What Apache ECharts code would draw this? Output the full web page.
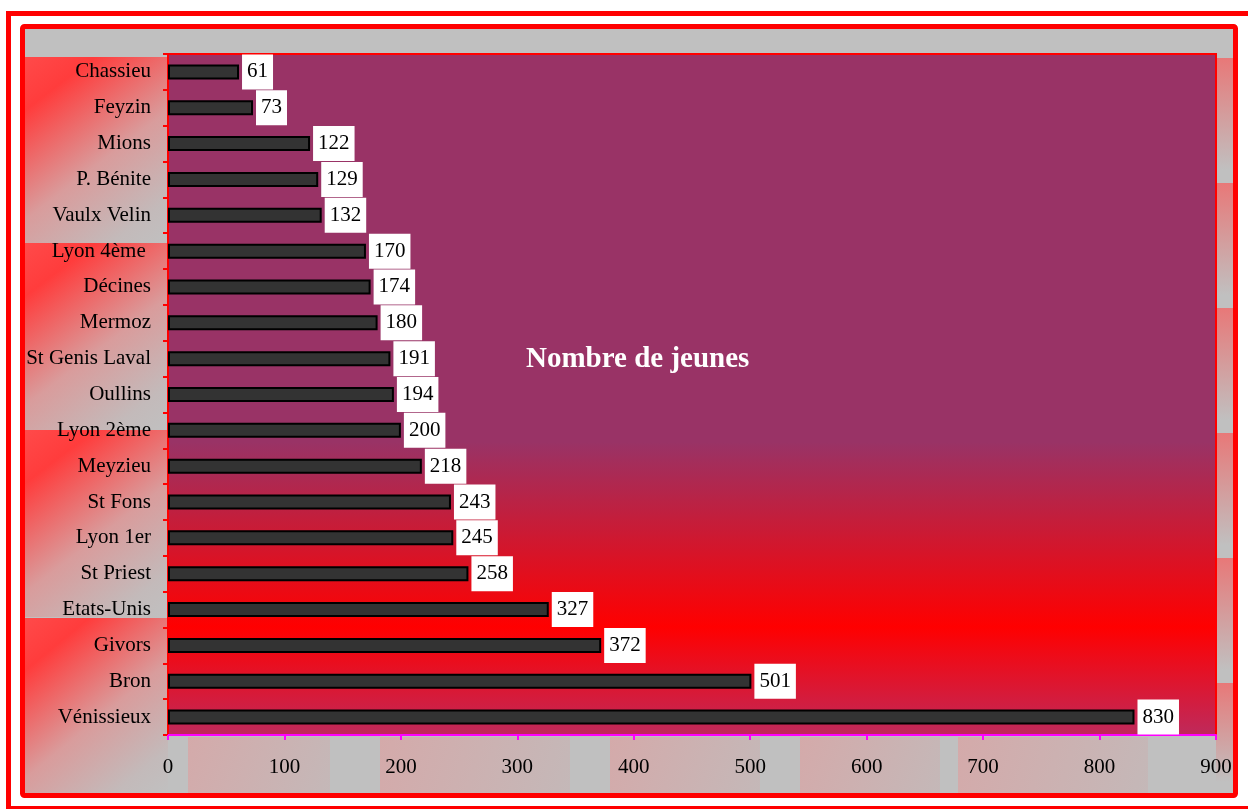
<!DOCTYPE html>
<html>
<head>
<meta charset="utf-8">
<script src="https://cdn.jsdelivr.net/npm/echarts@6/dist/echarts.min.js"></script>
<style>
  html, body { margin: 0; padding: 0; background: #fff; }
  #chart { width: 1248px; height: 809px; }
</style>
</head>
<body>
<div id="chart"></div>
<script>
  // données
  var villes = ['Chassieu', 'Feyzin', 'Mions', 'P. Bénite', 'Vaulx Velin', 'Lyon 4ème ', 'Décines',
    'Mermoz', 'St Genis Laval', 'Oullins', 'Lyon 2ème', 'Meyzieu', 'St Fons', 'Lyon 1er',
    'St Priest', 'Etats-Unis', 'Givors', 'Bron', 'Vénissieux'];
  var jeunes = [61, 73, 122, 129, 132, 170, 174, 180, 191, 194, 200, 218, 243, 245, 258, 327, 372, 501, 830];
  var ticksX = [0, 100, 200, 300, 400, 500, 600, 700, 800, 900];

  var serif = '"Liberation Serif", "DejaVu Serif", serif';
  var chart = echarts.init(document.getElementById('chart'));

  // fond gris avec les dégradés rouges façon Excel
  var fond = [
    { type: 'rect', z: -10, shape: { x: 25, y: 29, width: 1208, height: 764 }, style: { fill: '#C0C0C0' } }
  ];
  [57, 243, 430, 618].forEach(function (y0, i) {
    var h = i === 3 ? 175 : 187;
    fond.push({
      type: 'rect', z: -9,
      shape: { x: 25, y: y0, width: 143, height: h },
      style: {
        fill: new echarts.graphic.LinearGradient(0, 0, 1, 1, [
          { offset: 0, color: '#FF4A4A' },
          { offset: 0.18, color: '#FF3C3C' },
          { offset: 0.55, color: '#D99C9C' },
          { offset: 0.85, color: '#C3BABA' },
          { offset: 1, color: '#C0C0C0' }
        ])
      }
    });
  });
  [58, 183, 308, 433, 558, 683].forEach(function (y0) {
    fond.push({
      type: 'rect', z: -9,
      shape: { x: 1216, y: y0, width: 17, height: Math.min(125, 793 - y0) },
      style: {
        fill: new echarts.graphic.LinearGradient(0, 0, 0, 1, [
          { offset: 0, color: '#E87878' },
          { offset: 0.9, color: '#C0C0C0' },
          { offset: 1, color: '#C0C0C0' }
        ])
      }
    });
  });
  [[188, 142], [380, 190], [610, 150], [800, 140], [958, 190]].forEach(function (p) {
    fond.push({
      type: 'rect', z: -9,
      shape: { x: p[0], y: 737, width: p[1], height: 56 },
      style: {
        fill: new echarts.graphic.LinearGradient(0, 0, 1, 1, [
          { offset: 0, color: '#D4AAAA' },
          { offset: 1, color: '#C4B8B8' }
        ])
      }
    });
  });
  // cadres rouges
  fond.push({
    type: 'rect', z: 10,
    shape: { x: 8.5, y: 13.5, width: 1250, height: 795 },
    style: { fill: null, stroke: '#FF0000', lineWidth: 5 }
  });
  fond.push({
    type: 'rect', z: 10,
    shape: { x: 22.5, y: 26.5, width: 1213, height: 769, r: 2 },
    style: { fill: null, stroke: '#FF0000', lineWidth: 5 }
  });

  chart.setOption({
    backgroundColor: '#FFFFFF',
    animation: false,
    title: {
      text: 'Nombre de jeunes',
      left: 521,
      top: 340,
      textStyle: { color: '#FFFFFF', fontFamily: serif, fontWeight: 'bold', fontSize: 29 }
    },
    graphic: fond,
    grid: {
      left: 168,
      right: 32,
      top: 54,
      bottom: 74,
      show: true,
      borderColor: '#FF0000',
      borderWidth: 2,
      backgroundColor: new echarts.graphic.LinearGradient(0, 0, 0, 1, [
        { offset: 0, color: '#993366' },
        { offset: 0.57, color: '#993366' },
        { offset: 0.84, color: '#FF0000' },
        { offset: 1, color: '#BE2A5C' }
      ])
    },
    xAxis: {
      type: 'value',
      min: ticksX[0],
      max: ticksX[ticksX.length - 1],
      interval: 100,
      axisLine: { show: true, lineStyle: { color: '#FF00FF', width: 2 } },
      axisTick: { show: true, length: 5, lineStyle: { color: '#FF00FF', width: 2 } },
      axisLabel: { color: '#000', fontFamily: serif, fontSize: 21, margin: 22 },
      splitLine: { show: false }
    },
    yAxis: {
      type: 'category',
      inverse: true,
      data: villes,
      axisLine: { show: true, lineStyle: { color: '#FF0000', width: 2 } },
      axisTick: { show: true, length: 5, lineStyle: { color: '#FF0000', width: 2 } },
      axisLabel: { color: '#000', fontFamily: serif, fontSize: 21, margin: 17, padding: [4, 0, 0, 0] }
    },
    series: [
      {
        type: 'bar',
        data: jeunes,
        barWidth: 15,
        itemStyle: { color: '#333333', borderColor: '#000000', borderWidth: 2 },
        label: {
          show: true,
          position: 'right',
          distance: 3,
          color: '#000',
          fontFamily: serif,
          fontSize: 21,
          backgroundColor: '#FFFFFF',
          padding: [8, 5, 6, 5]
        }
      }
    ]
  });
</script>
</body>
</html>
